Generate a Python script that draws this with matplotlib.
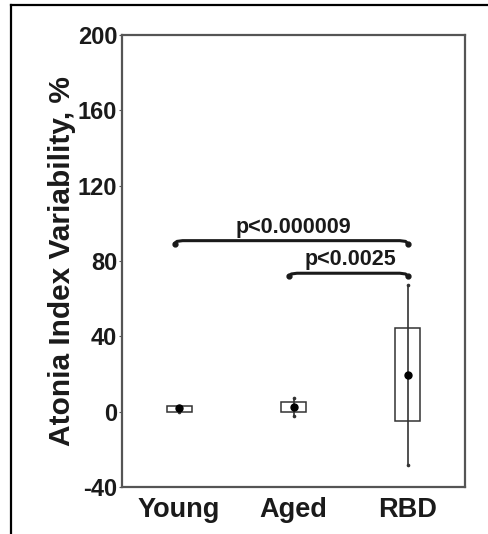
import matplotlib
matplotlib.use('Agg')
import matplotlib.pyplot as plt
from matplotlib.lines import Line2D

plt.rcParams['font.family'] = ['Liberation Sans', 'DejaVu Sans']
plt.rcParams['font.weight'] = 'bold'
plt.rcParams['axes.unicode_minus'] = False

groups = ['Young', 'Aged', 'RBD']
boxLow = [0.0, -0.3, -4.8]
boxHigh = [3.0, 5.3, 44.3]
centre = [1.8, 2.3, 19.7]
rangeLow = [-0.3, -2.1, -28.3]
rangeHigh = [3.2, 7.1, 67.3]

# significance brackets: (first group, second group, height, label)
pairs = [(0, 2, 90.8, 'p<0.000009'),
         (1, 2, 73.5, 'p<0.0025')]

fig = plt.figure(figsize=(4.88, 5.34), dpi=100)
ax = fig.add_axes([0.25, 0.088, 0.703, 0.8465])

# outer frame of the panel
fig.add_artist(Line2D([0.0225, 1.0], [0.9906, 0.9906], transform=fig.transFigure,
                      color='black', lw=1.6))
fig.add_artist(Line2D([0.0225, 0.0225], [0.0, 0.9906], transform=fig.transFigure,
                      color='black', lw=1.6))

x = [i + 1 for i in range(len(groups))]
w = 0.22
ax.vlines(x, rangeLow, rangeHigh, color='#333333', lw=1.2, zorder=2)
ax.plot(x, rangeLow, 'o', color='#333333', ms=1.6, zorder=3)
ax.plot(x, rangeHigh, 'o', color='#333333', ms=1.6, zorder=3)
ax.bar(x, [h - l for l, h in zip(boxLow, boxHigh)], bottom=boxLow, width=w,
       facecolor='none', edgecolor='#333333', lw=1.1, zorder=3)
ax.plot(x, centre, 'o', color='black', ms=5, zorder=4)

for a, b, yb, label in pairs:
    x0 = x[a] - 0.04
    x1 = x[b]
    bx = [x0, x0 + 0.02, x0 + 0.07, x1 - 0.07, x1 - 0.02, x1]
    by = [yb - 1.6, yb - 0.4, yb, yb, yb - 0.4, yb - 1.6]
    ax.plot(bx, by, color='#1a1a1a', lw=2.2, solid_capstyle='round', zorder=5)
    ax.plot([x0, x1], [yb - 1.6, yb - 1.6], 'o', color='#1a1a1a', ms=3.5, zorder=5)
    ax.annotate(label, xy=((x[a] + x[b]) / 2, yb), xytext=(0, 2),
                textcoords='offset points', ha='center', va='bottom',
                fontsize=15.5, fontweight='bold', color='#1a1a1a')

ax.set_xlim(0.5, 3.5)
ax.set_ylim(-40, 200)
ax.set_yticks(range(-40, 201, 40))
ax.set_xticks(x)
ax.set_xticklabels(groups, fontsize=19.5, fontweight='bold', color='#1a1a1a')
ax.tick_params(axis='x', length=0, pad=7)
ax.tick_params(axis='y', length=2, width=0.8, pad=1.5, labelsize=17,
               colors='#555555', labelcolor='#1a1a1a')
for s in ax.spines.values():
    s.set_color('#555555')
    s.set_linewidth(1.6)
ax.set_ylabel('Atonia Index Variability, %', fontsize=21.5, fontweight='bold',
              color='#1a1a1a', labelpad=1)

plt.savefig('out.png', dpi=100)
